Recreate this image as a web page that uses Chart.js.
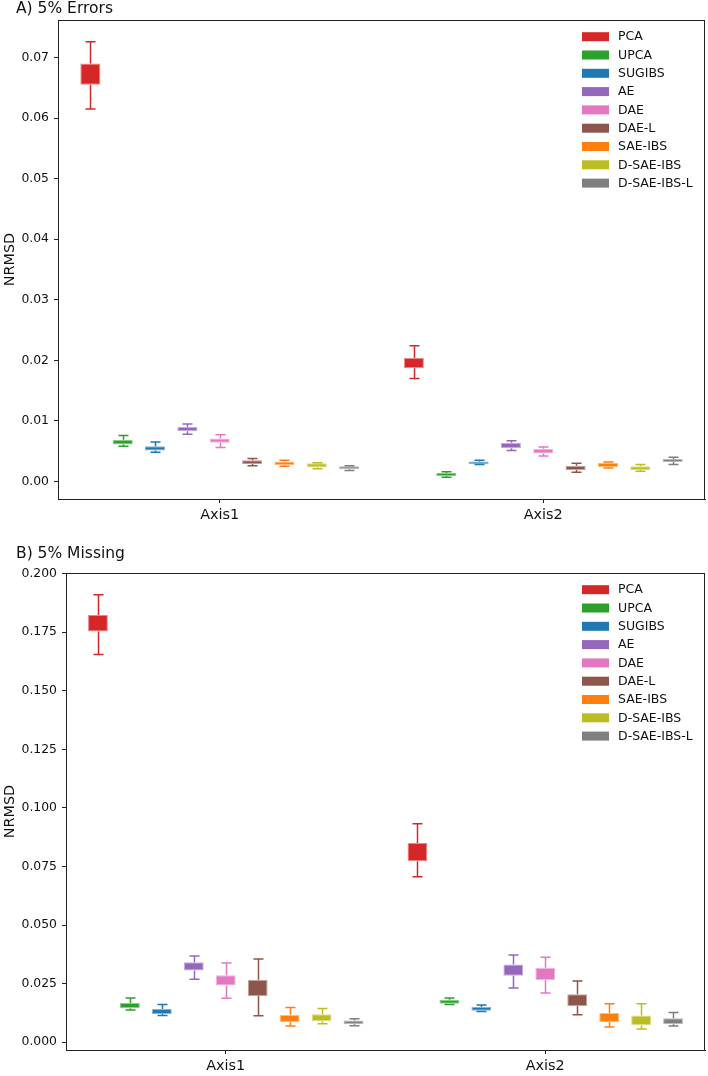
<!DOCTYPE html>
<html><head><meta charset="utf-8">
<script src="https://cdn.jsdelivr.net/npm/chart.js@4.4.1/dist/chart.umd.min.js"></script>
<style>
html,body{margin:0;padding:0;background:#fff;}
#wrap{position:relative;width:708px;height:1076px;overflow:hidden;}
canvas{position:absolute;left:0;}
</style></head><body>
<div id="wrap">
<canvas id="c1" width="708" height="538" style="top:0px"></canvas>
<canvas id="c2" width="708" height="538" style="top:538px"></canvas>
</div>
<script>
const categories = ['Axis1', 'Axis2'];
const methods = ['PCA', 'UPCA', 'SUGIBS', 'AE', 'DAE', 'DAE-L', 'SAE-IBS', 'D-SAE-IBS', 'D-SAE-IBS-L'];
const colors = ['#d62728', '#2ca02c', '#1f77b4', '#9467bd', '#e377c2', '#8c564b', '#ff7f0e', '#bcbd22', '#7f7f7f'];

// A) 5% Errors  — per method: [Axis1, Axis2]
const errorsMin = [[0.0615,0.0170],[0.0058,0.0007],[0.0048,0.0028],[0.0078,0.0051],[0.0056,0.0042],[0.0026,0.0015],[0.0025,0.0022],[0.0021,0.0017],[0.0018,0.0028]];
const errorsQ1  = [[0.0655,0.0187],[0.0061,0.0009],[0.0051,0.0029],[0.0083,0.0055],[0.0064,0.0046],[0.0029,0.0019],[0.0027,0.0024],[0.0023,0.0019],[0.0020,0.0032]];
const errorsQ3  = [[0.0690,0.0204],[0.0069,0.0014],[0.0058,0.0033],[0.0090,0.0064],[0.0071,0.0054],[0.0035,0.0026],[0.0033,0.0031],[0.0030,0.0025],[0.0025,0.0037]];
const errorsMax = [[0.0726,0.0224],[0.0076,0.0016],[0.0065,0.0035],[0.0095,0.0067],[0.0077,0.0057],[0.0038,0.0030],[0.0035,0.0032],[0.0031,0.0028],[0.0026,0.0040]];

// B) 5% Missing — per method: [Axis1, Axis2]
const missingMin = [[0.1655,0.0706],[0.0138,0.0161],[0.0114,0.0131],[0.0269,0.0232],[0.0188,0.0210],[0.0113,0.0117],[0.0069,0.0065],[0.0079,0.0057],[0.0070,0.0069]];
const missingQ1  = [[0.1753,0.0773],[0.0145,0.0164],[0.0121,0.0134],[0.0306,0.0284],[0.0242,0.0266],[0.0198,0.0155],[0.0085,0.0087],[0.0090,0.0073],[0.0077,0.0077]];
const missingQ3  = [[0.1824,0.0851],[0.0168,0.0181],[0.0142,0.0151],[0.0342,0.0332],[0.0286,0.0318],[0.0267,0.0205],[0.0117,0.0125],[0.0120,0.0114],[0.0093,0.0103]];
const missingMax = [[0.1910,0.0933],[0.0189,0.0189],[0.0161,0.0159],[0.0368,0.0373],[0.0338,0.0363],[0.0355,0.0261],[0.0148,0.0164],[0.0144,0.0164],[0.0100,0.0127]];

const errorsTicks  = [0, 0.01, 0.02, 0.03, 0.04, 0.05, 0.06, 0.07];
const missingTicks = [0, 0.025, 0.05, 0.075, 0.1, 0.125, 0.15, 0.175, 0.2];

const FONT = "'DejaVu Sans', sans-serif";

function hexA(hex, a) {
  const n = parseInt(hex.slice(1), 16);
  return `rgba(${(n>>16)&255},${(n>>8)&255},${n&255},${a})`;
}

const whiskerPlugin = {
  id: 'whiskers',
  beforeDatasetsDraw(chart) {
    const ctx = chart.ctx, ys = chart.scales.y;
    chart.data.datasets.forEach((ds, i) => {
      const meta = chart.getDatasetMeta(i);
      meta.data.forEach((bar, j) => {
        const x = Math.round(bar.x) + 0.5;
        const pMin = ys.getPixelForValue(ds.whiskerMin[j]);
        const pMax = ys.getPixelForValue(ds.whiskerMax[j]);
        const pQ1 = ys.getPixelForValue(ds.data[j][0]);
        const pQ3 = ys.getPixelForValue(ds.data[j][1]);
        ctx.save();
        ctx.strokeStyle = ds.whiskerColor;
        ctx.lineWidth = 1.5;
        ctx.beginPath();
        ctx.moveTo(x, pQ3); ctx.lineTo(x, pMax);
        ctx.moveTo(x - 5, pMax); ctx.lineTo(x + 5, pMax);
        ctx.moveTo(x, pQ1); ctx.lineTo(x, pMin);
        ctx.moveTo(x - 5, pMin); ctx.lineTo(x + 5, pMin);
        ctx.stroke();
        ctx.restore();
      });
    });
  }
};

const framePlugin = {
  id: 'frame',
  afterDraw(chart, args, opts) {
    const ctx = chart.ctx, a = chart.chartArea;
    ctx.save();
    ctx.strokeStyle = '#222';
    ctx.lineWidth = 1;
    ctx.strokeRect(Math.round(a.left) + 0.5, Math.round(a.top) + 0.5, Math.round(a.right - a.left) - 1, Math.round(a.bottom - a.top));
    // panel title
    ctx.fillStyle = '#111';
    ctx.font = `15.5px ${FONT}`;
    ctx.textBaseline = 'middle';
    ctx.textAlign = 'left';
    ctx.fillText(opts.title, 16, opts.titleY);
    // legend
    ctx.font = `12.5px ${FONT}`;
    chart.data.datasets.forEach((ds, i) => {
      const yc = a.top + 16.7 + i * 18.3;
      ctx.fillStyle = ds.backgroundColor;
      ctx.fillRect(a.right - 123, yc - 4.5, 27, 9);
      ctx.fillStyle = '#111';
      ctx.fillText(ds.label, a.right - 87, yc + 0.5);
    });
    ctx.restore();
  }
};

function makeChart(id, q1, q3, mn, mx, ticks, yMin, yMax, digits, title, titleY, padTop, xHeight, yWidth) {
  const datasets = methods.map((m, i) => ({
    label: m,
    data: categories.map((c, j) => [q1[i][j], q3[i][j]]),
    whiskerMin: categories.map((c, j) => mn[i][j]),
    whiskerMax: categories.map((c, j) => mx[i][j]),
    whiskerColor: colors[i],
    backgroundColor: colors[i],
    borderColor: hexA(colors[i], 0.55),
    borderWidth: 1,
    borderSkipped: false,
    categoryPercentage: 0.9,
    barPercentage: 0.62
  }));
  return new Chart(document.getElementById(id), {
    type: 'bar',
    data: { labels: categories, datasets },
    plugins: [whiskerPlugin, framePlugin],
    options: {
      responsive: false,
      animation: false,
      events: [],
      layout: { padding: { top: padTop, right: 3, left: 0, bottom: 0 } },
      plugins: {
        legend: { display: false },
        tooltip: { enabled: false },
        frame: { title, titleY }
      },
      scales: {
        x: {
          grid: { display: true, drawOnChartArea: false, drawTicks: true, tickLength: 4, offset: false, color: '#222' },
          border: { display: true, color: '#222', width: 1 },
          ticks: { color: '#111', font: { family: FONT, size: 14.4 }, padding: 4, maxRotation: 0 },
          afterFit(s) { s.height = xHeight; }
        },
        y: {
          min: yMin, max: yMax,
          afterBuildTicks(s) { s.ticks = ticks.map(v => ({ value: v })); },
          grid: { display: true, drawOnChartArea: false, drawTicks: true, tickLength: 4, color: '#222' },
          border: { display: true, color: '#222', width: 1 },
          ticks: { color: '#111', font: { family: FONT, size: 12.4 }, padding: 5,
                   callback: v => Number(v).toFixed(digits) },
          title: { display: true, text: 'NRMSD', color: '#111', font: { family: FONT, size: 14.4 }, padding: { top: 2, bottom: 0 } },
          afterFit(s) { s.width = yWidth; }
        }
      }
    }
  });
}

makeChart('c1', errorsQ1, errorsQ3, errorsMin, errorsMax, errorsTicks, -0.0029, 0.0762, 2, 'A) 5% Errors', 9, 20, 39, 58);
makeChart('c2', missingQ1, missingQ3, missingMin, missingMax, missingTicks, -0.0033, 0.2003, 3, 'B) 5% Missing', 16, 35, 26, 66);
</script>
</body></html>
